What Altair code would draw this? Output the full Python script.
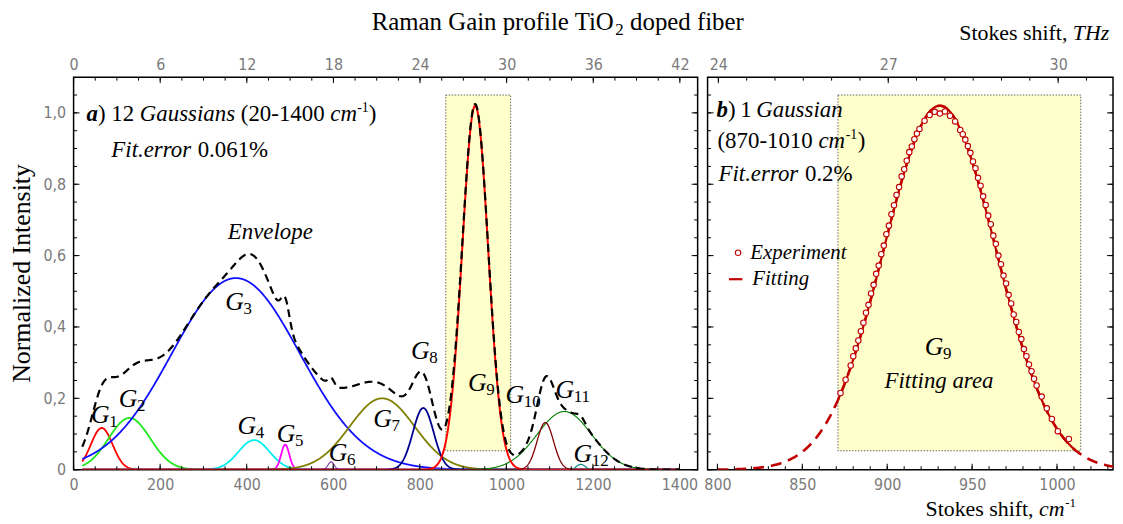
import altair as alt
import numpy as np
import pandas as pd

# ---------------- data ----------------
gauss_names  = ["G1", "G2", "G3", "G4", "G5", "G6", "G7", "G8", "G9", "G10", "G11", "G12"]
gauss_center = [65, 129, 375, 417, 489, 595, 713, 808, 928, 1090, 1134, 1172]
gauss_amp    = [0.117, 0.145, 0.537, 0.083, 0.070, 0.022, 0.200, 0.173, 1.02, 0.132, 0.163, 0.015]
gauss_sigma  = [25, 48, 148, 36, 9.5, 7, 75, 24, 30, 19, 63, 10]

fit_center, fit_sigma, fit_amp = 931.0, 33.0, 1.02

exp_shift = [872.5, 875.5, 878.5,
             880, 881.5, 883, 884.5, 886, 887.5, 889, 890.5, 892, 893.5, 895, 896.5, 898,
             899.5, 901, 902.5, 904, 905.5, 907, 908.5, 910, 911.5, 913, 914.5, 916, 917.5,
             919, 922, 925, 928, 931, 934, 937, 940, 943,
             944.5, 946, 947.5, 949, 950.5, 952, 953.5, 955, 956.5, 958, 959.5, 961, 962.5,
             964, 965.5, 967, 968.5, 970, 971.5, 973, 974.5, 976, 977.5, 979, 980.5, 982,
             983.5, 985, 986.5,
             988, 991, 994, 997, 1000.5, 1007]
exp_intensity = [0.215, 0.252, 0.292,
                 0.318, 0.340, 0.362, 0.388, 0.412, 0.440, 0.462, 0.494, 0.518, 0.549, 0.572,
                 0.604, 0.628, 0.660, 0.684, 0.716, 0.741, 0.770, 0.792, 0.822, 0.842, 0.866,
                 0.890, 0.906, 0.926, 0.942,
                 0.955, 0.978, 0.994, 1.003, 0.998, 1.004, 0.992, 0.976, 0.952,
                 0.940, 0.925, 0.907, 0.888, 0.864, 0.845, 0.818, 0.796, 0.766, 0.742, 0.712,
                 0.688, 0.656, 0.633, 0.600, 0.576, 0.544, 0.522, 0.490, 0.466, 0.435, 0.414,
                 0.386, 0.366, 0.338, 0.318, 0.295, 0.276, 0.255,
                 0.236, 0.205, 0.172, 0.142, 0.108, 0.086]
assert len(exp_shift) == len(exp_intensity)

rect_a = [860, 1010, 0.053, 1.05]
rect_b = [871, 1014, 0.053, 1.05]

x_labels_a = [0, 200, 400, 600, 800, 1000, 1200, 1400]
thz_labels_a = [0, 6, 12, 18, 24, 30, 36, 42]
y_labels = [0, 0.2, 0.4, 0.6, 0.8, 1.0]
x_labels_b = [800, 850, 900, 950, 1000]
thz_labels_b = [24, 27, 30]

CM_PER_THZ = 33.356

# ---------------- styles / layout ----------------
SERIF = "Liberation Serif, Times New Roman, serif"
NARROW = "Liberation Sans Narrow, Arial Narrow, DejaVu Sans Condensed, sans-serif"
GRAY = "#7a7a7a"
DARKRED = "#c00000"
W_A, W_B, H = 628, 408, 395

comp_color = ["#ff0000", "#1ee81e", "#1010ff", "#00eeee", "#ff00ff", "#8040a8",
              "#808000", "#000090", "#ff0000", "#800000", "#008000", "#008b8b"]
comp_width = [1.8, 1.8, 1.8, 1.8, 1.8, 1.2, 1.8, 1.8, 2.0, 1.3, 1.1, 1.2]
draw_order = [0, 1, 2, 3, 4, 5, 6, 7, 10, 11, 8, 9]

XA = alt.Scale(domain=[0, 1442], nice=False, zero=False)
XB = alt.Scale(domain=[794.2, 1033.0], nice=False, zero=False)
YS = alt.Scale(domain=[0, 1.1], nice=False, zero=False)

ONE = pd.DataFrame({"k": [0]})


def txt(s, x, y, size=23, style="normal", weight="normal", align="left",
        baseline="alphabetic", dy=0, color="black", font=SERIF, angle=0):
    props = dict(text=s, fontSize=size, fontStyle=style, fontWeight=weight, align=align,
                 baseline=baseline, color=color, font=font)
    if dy:
        props["dy"] = dy
    if angle:
        props["angle"] = angle
    return alt.Chart(ONE).mark_text(**props).encode(x=alt.value(x), y=alt.value(y))


def label_axis(orient, values, expr, pad=7):
    return alt.Axis(orient=orient, values=values, ticks=False, domain=False, grid=False,
                    labelFont=NARROW, labelFontSize=16, labelColor=GRAY, labelPadding=pad,
                    labelFlush=False, labelOverlap=False, title=None, zindex=1, labelExpr=expr)


def carrier(xscale, x0, xaxis, yaxis):
    df = pd.DataFrame({"x": [x0], "y": [0.0]})
    return alt.Chart(df).mark_point(opacity=0).encode(
        x=alt.X("x:Q", scale=xscale, axis=xaxis),
        y=alt.Y("y:Q", scale=YS, axis=yaxis),
    )


def xticks(values, xscale, y0, y1):
    df = pd.DataFrame({"v": values})
    return alt.Chart(df).mark_rule(color="black", strokeWidth=1).encode(
        x=alt.X("v:Q", scale=xscale, axis=None), y=alt.value(y0), y2=alt.value(y1))


def yticks(values, x0, x1):
    df = pd.DataFrame({"v": values})
    return alt.Chart(df).mark_rule(color="black", strokeWidth=1).encode(
        y=alt.Y("v:Q", scale=YS, axis=None), x=alt.value(x0), x2=alt.value(x1))


def frame_ticks(xscale, W, x_minor, x_major, top_minor, top_major):
    mn, mj = 3.5, 6
    return [
        xticks(x_minor, xscale, H, H - mn), xticks(x_major, xscale, H, H - mj),
        xticks(top_minor, xscale, 0, mn), xticks(top_major, xscale, 0, mj),
        yticks(y_minor, 0, mn), yticks(y_labels, 0, mj),
        yticks(y_minor, W, W - mn), yticks(y_labels, W, W - mj),
    ]


y_minor = [round(i * 0.05, 2) for i in range(0, 22)]
y_expr = "datum.value == 0 ? '0' : replace(format(datum.value, '.1f'), '.', ',')"
thz_expr = "format(round(datum.value / 33.356), 'd')"
int_expr = "format(datum.value, 'd')"

# ---------------- panel a ----------------
xs = np.arange(20, 1400.5, 1.0)
env = np.zeros_like(xs)
comp_frames = []
for c, a, s in zip(gauss_center, gauss_amp, gauss_sigma):
    yv = a * np.exp(-0.5 * ((xs - c) / s) ** 2)
    env = env + yv
    comp_frames.append(pd.DataFrame({"x": xs, "y": yv}))
env_df = pd.DataFrame({"x": xs, "y": env})

rect_a_df = pd.DataFrame({"x": [rect_a[0]], "x2": [rect_a[1]], "y": [rect_a[2]], "y2": [rect_a[3]]})
rect_b_df = pd.DataFrame({"x": [rect_b[0]], "x2": [rect_b[1]], "y": [rect_b[2]], "y2": [rect_b[3]]})


def rect_layer(df, xscale):
    return alt.Chart(df).mark_rect(fill="#ffffcc", stroke="#555555", strokeDash=[1.5, 1.5],
                                   strokeWidth=0.9).encode(
        x=alt.X("x:Q", scale=xscale, axis=None), x2="x2:Q",
        y=alt.Y("y:Q", scale=YS, axis=None), y2="y2:Q")


layers_a = [rect_layer(rect_a_df, XA)]
for i in draw_order:
    layers_a.append(
        alt.Chart(comp_frames[i]).mark_line(color=comp_color[i], strokeWidth=comp_width[i], clip=True)
        .encode(x=alt.X("x:Q", scale=XA, axis=None), y=alt.Y("y:Q", scale=YS, axis=None))
    )
layers_a.append(
    alt.Chart(env_df).mark_line(color="black", strokeWidth=2.2, strokeDash=[8, 5], clip=True)
    .encode(x=alt.X("x:Q", scale=XA, axis=None), y=alt.Y("y:Q", scale=YS, axis=None))
)

# G labels (annotation positions in data units)
glab_df = pd.DataFrame({
    "x": [62, 126, 372, 400.5, 491, 611, 714, 801, 933, 1019.5, 1135, 1176.6],
    "y": [0.152, 0.199, 0.471, 0.123, 0.100, 0.047, 0.142, 0.332, 0.242, 0.209, 0.223, 0.043],
    "num": [n[1:] for n in gauss_names],
})
layers_a.append(alt.Chart(glab_df).mark_text(text="G", font=SERIF, fontSize=26, fontStyle="italic",
                                             align="center", baseline="middle").encode(
    x=alt.X("x:Q", scale=XA, axis=None), y=alt.Y("y:Q", scale=YS, axis=None)))
layers_a.append(alt.Chart(glab_df).mark_text(font=SERIF, fontSize=17, align="left", baseline="middle",
                                             dx=9, dy=7).encode(
    x=alt.X("x:Q", scale=XA, axis=None), y=alt.Y("y:Q", scale=YS, axis=None), text="num:N"))

# annotation text panel a
layers_a += [
    txt("a", 13, 44, weight="bold", style="italic"),
    txt(")", 24.5, 44),
    txt("12", 38, 44),
    txt("Gaussians", 66.7, 44, style="italic"),
    txt("(20-1400", 168.3, 44),
    txt("cm", 258.4, 44, style="italic"),
    txt("-1", 285.4, 44, size=14, dy=-9),
    txt(")", 297, 44),
    txt("Fit.error", 38, 80, style="italic"),
    txt("0.061%", 124.9, 80),
    txt("Envelope", 198, 163, style="italic", align="center"),
    # y title
    txt("Normalized Intensity", -52, H / 2, size=26, align="center", baseline="middle", angle=270),
    # figure title
    txt("Raman Gain profile TiO", 300, -47, size=25),
    txt("2", 545.1, -47, size=17, dy=5),
    txt("doped fiber", 560, -47, size=25),
]

xa_minor = [i * 50 for i in range(0, 29)]
thz_a_minor = [i * 1.5 * CM_PER_THZ for i in range(0, 29)]
thz_a_major = [t * CM_PER_THZ for t in thz_labels_a]
layers_a += frame_ticks(XA, W_A, xa_minor, x_labels_a, thz_a_minor, thz_a_major)
layers_a += [
    carrier(XA, 0, label_axis("bottom", x_labels_a, int_expr), label_axis("left", y_labels, y_expr, pad=8)),
    carrier(XA, 0, label_axis("top", thz_a_major, thz_expr, pad=5), None),
]

panel_a = alt.layer(*layers_a).resolve_axis(x="independent", y="independent").properties(
    width=W_A, height=H)

# ---------------- panel b ----------------
xb = np.arange(800, 1033.01, 0.5)
fit_df = pd.DataFrame({"x": xb, "y": fit_amp * np.exp(-0.5 * ((xb - fit_center) / fit_sigma) ** 2)})
fit_in_df = fit_df[(fit_df.x >= rect_b[0]) & (fit_df.x <= 1010)]
exp_df = pd.DataFrame({"x": exp_shift, "y": exp_intensity})

layers_b = [
    rect_layer(rect_b_df, XB),
    alt.Chart(fit_df).mark_line(color=DARKRED, strokeWidth=2.6, strokeDash=[11, 7], clip=True)
    .encode(x=alt.X("x:Q", scale=XB, axis=None), y=alt.Y("y:Q", scale=YS, axis=None)),
    alt.Chart(fit_in_df).mark_line(color=DARKRED, strokeWidth=2.2, clip=True)
    .encode(x=alt.X("x:Q", scale=XB, axis=None), y=alt.Y("y:Q", scale=YS, axis=None)),
    alt.Chart(exp_df).mark_point(shape="circle", filled=True, fill="white", stroke=DARKRED,
                                 strokeWidth=1.1, size=30, opacity=1)
    .encode(x=alt.X("x:Q", scale=XB, axis=None), y=alt.Y("y:Q", scale=YS, axis=None)),
]

gb_df = pd.DataFrame({"x": [927.6], "y": [0.343], "num": ["9"]})
layers_b.append(alt.Chart(gb_df).mark_text(text="G", font=SERIF, fontSize=26, fontStyle="italic",
                                           align="center", baseline="middle").encode(
    x=alt.X("x:Q", scale=XB, axis=None), y=alt.Y("y:Q", scale=YS, axis=None)))
layers_b.append(alt.Chart(gb_df).mark_text(font=SERIF, fontSize=17, align="left", baseline="middle",
                                           dx=9, dy=7).encode(
    x=alt.X("x:Q", scale=XB, axis=None), y=alt.Y("y:Q", scale=YS, axis=None), text="num:N"))
fa_df = pd.DataFrame({"x": [930.5], "y": [0.248]})
layers_b.append(alt.Chart(fa_df).mark_text(text="Fitting area", font=SERIF, fontSize=23,
                                           fontStyle="italic", align="center").encode(
    x=alt.X("x:Q", scale=XB, axis=None), y=alt.Y("y:Q", scale=YS, axis=None)))

layers_b += [
    txt("b", 9, 40, weight="bold", style="italic"),
    txt(")", 20.5, 40),
    txt("1", 33, 40),
    txt("Gaussian", 49, 40, style="italic"),
    txt("(870-1010", 10, 71),
    txt("cm", 111.6, 71, style="italic"),
    txt("-1", 139, 71, size=14, dy=-9),
    txt(")", 151.2, 71),
    txt("Fit.error", 11, 104, style="italic"),
    txt("0.2%", 98, 104),
    # legend
    alt.Chart(ONE).mark_point(shape="circle", filled=True, fill="white", stroke=DARKRED,
                              strokeWidth=1.1, size=30, opacity=1)
    .encode(x=alt.value(30.7), y=alt.value(176.7)),
    txt("Experiment", 43, 183, size=21, style="italic"),
    alt.Chart(ONE).mark_rule(color=DARKRED, strokeWidth=2.2)
    .encode(x=alt.value(21.5), x2=alt.value(35), y=alt.value(203.3)),
    txt("Fitting", 45, 209, size=21, style="italic"),
    # axis titles
    txt("Stokes shift,", 219.3, 442, size=22),
    txt("cm", 333.6, 442, size=22, style="italic"),
    txt("-1", 360, 442, size=13, dy=-9),
    txt("Stokes shift,", 253.3, -37, size=22),
    txt("THz", 367.6, -37, size=22, style="italic"),
]

xb_minor = [800 + 10 * i for i in range(0, 24)]
thz_b_minor = [(24 + 0.5 * i) * CM_PER_THZ for i in range(0, 14)]
thz_b_major = [t * CM_PER_THZ for t in thz_labels_b]
layers_b += frame_ticks(XB, W_B, xb_minor, x_labels_b, thz_b_minor, thz_b_major)
layers_b += [
    carrier(XB, 800, label_axis("bottom", x_labels_b, int_expr), None),
    carrier(XB, 800, label_axis("top", thz_b_major, thz_expr, pad=5), None),
]

panel_b = alt.layer(*layers_b).resolve_axis(x="independent", y="independent").properties(
    width=W_B, height=H)

chart = alt.hconcat(panel_a, panel_b, spacing=10, bounds="flush").properties(
    padding={"left": 0, "top": 0, "right": 0, "bottom": 0}
).configure_view(stroke="black", strokeWidth=1.5)

chart.save("out.html", embed_options={"renderer": "svg", "actions": False})
